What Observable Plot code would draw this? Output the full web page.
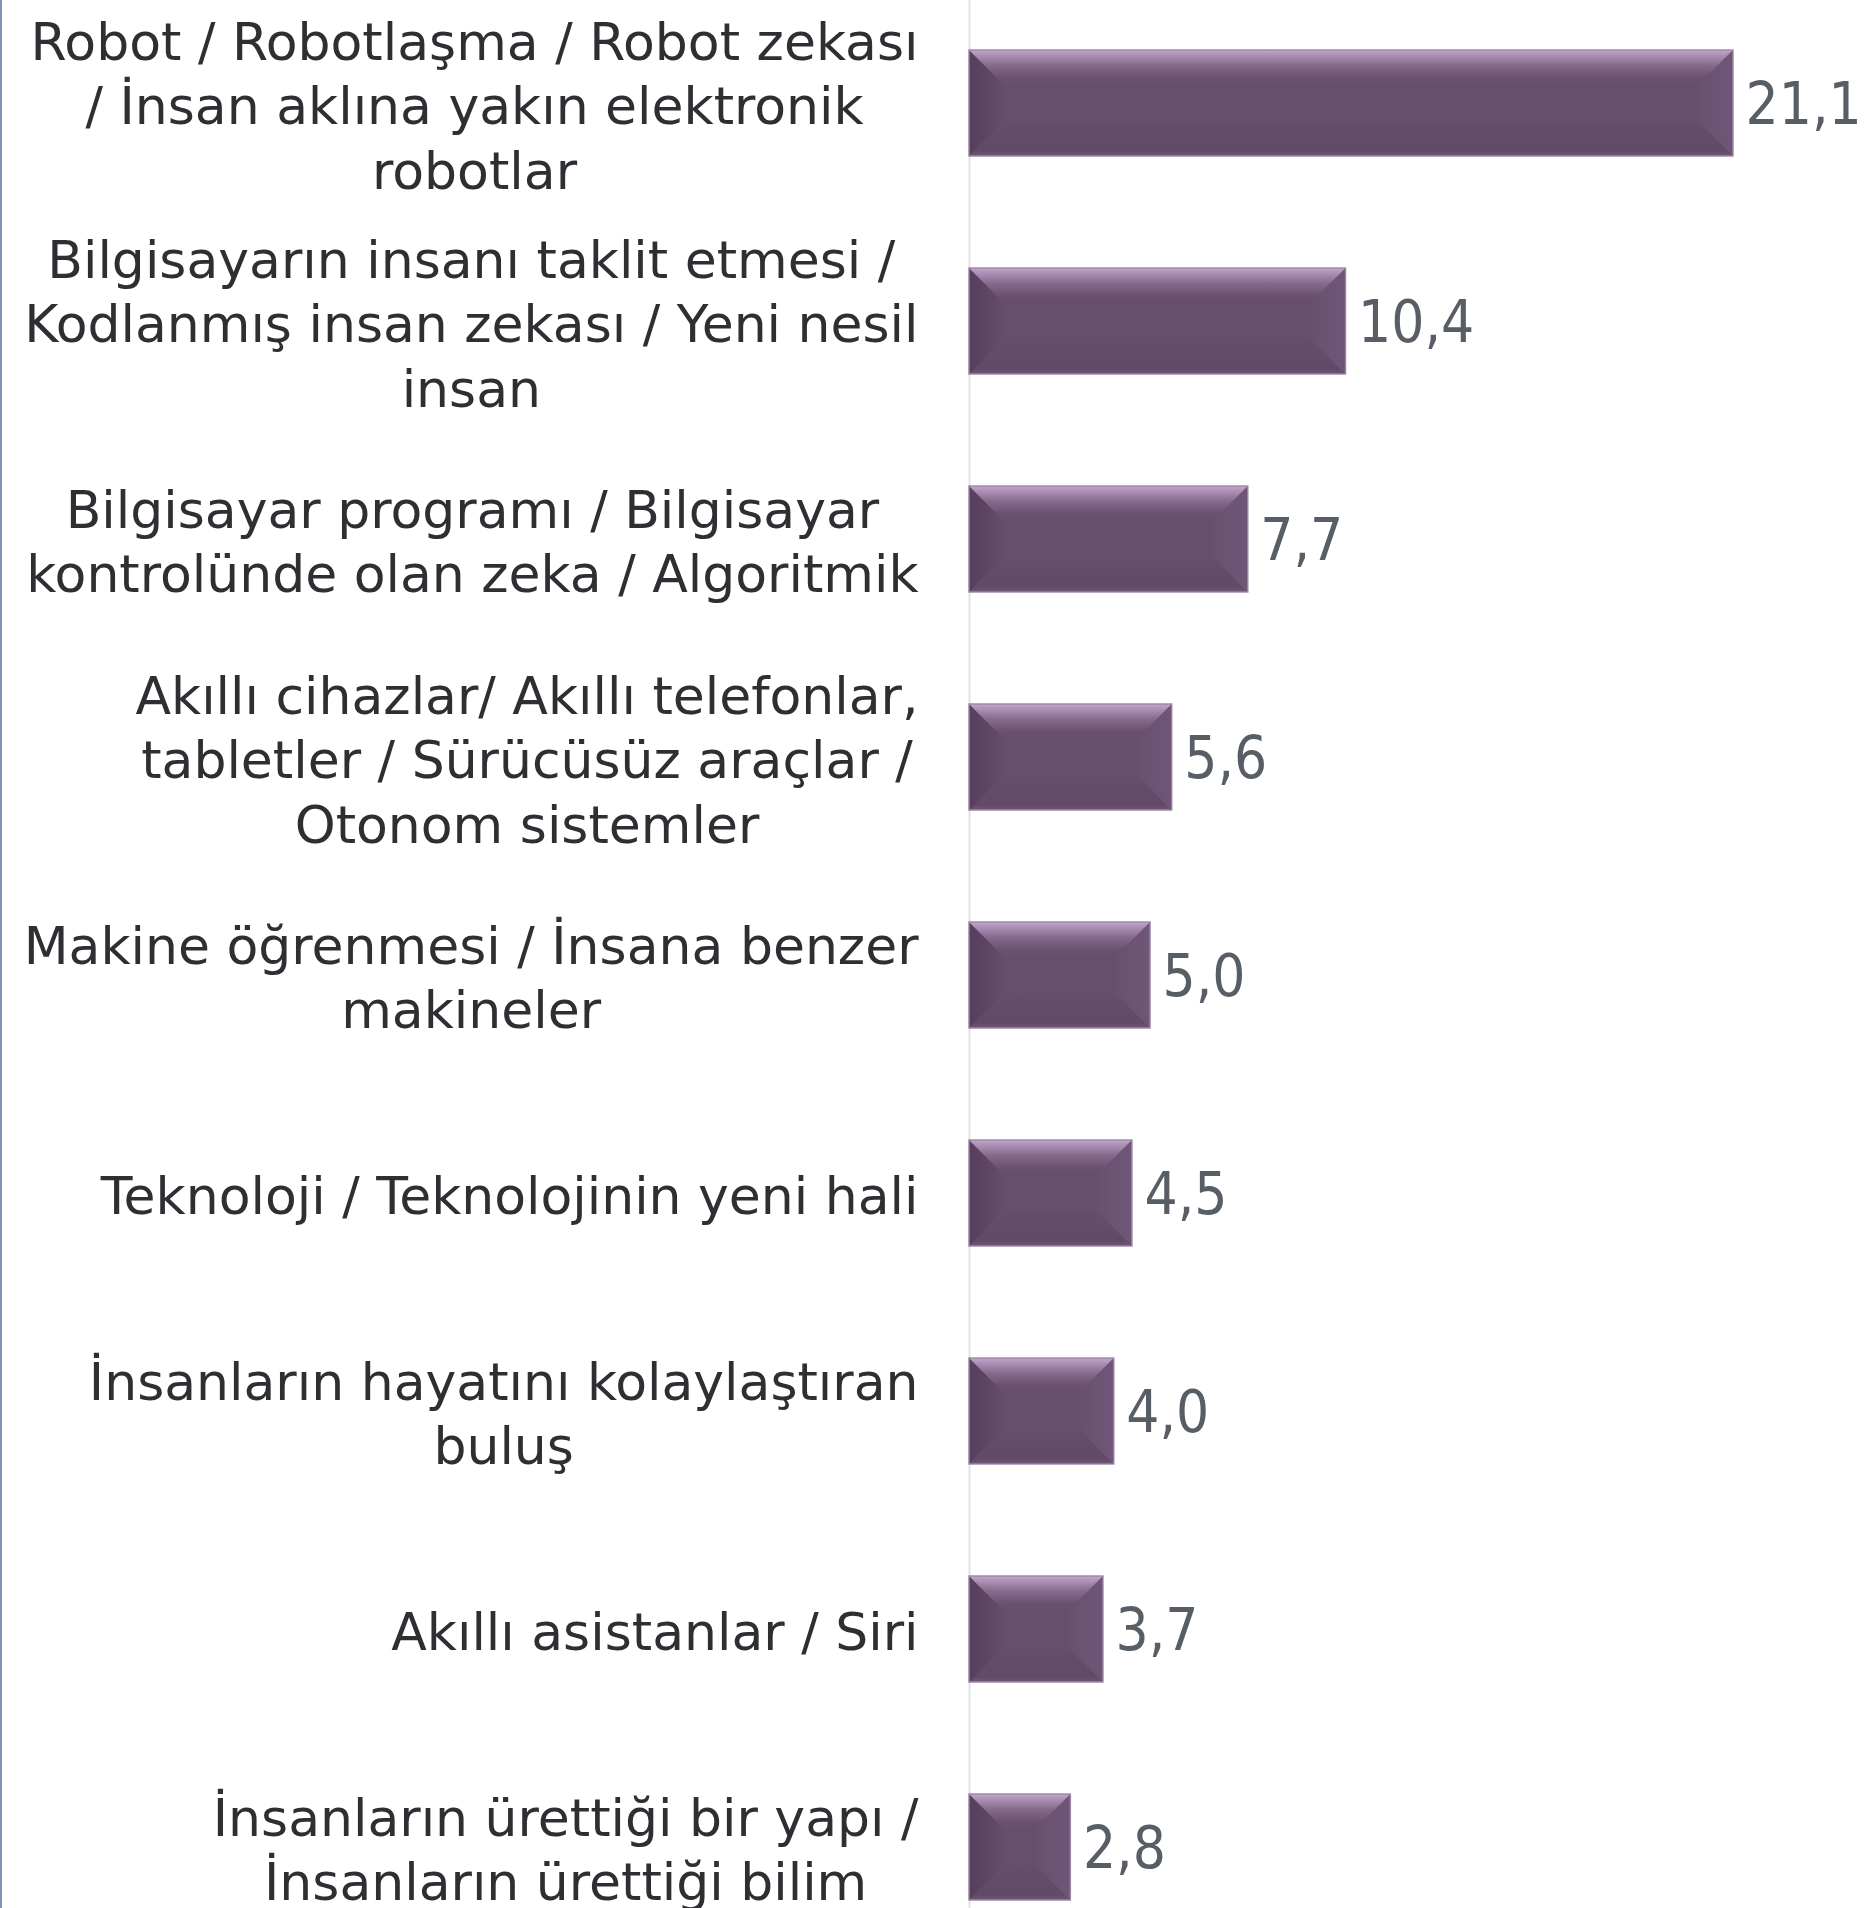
<!DOCTYPE html>
<html>
<head>
<meta charset="utf-8">
<script src="https://cdn.jsdelivr.net/npm/d3@7"></script>
<script src="https://cdn.jsdelivr.net/npm/@observablehq/plot@0.6"></script>
<style>
html, body { margin: 0; padding: 0; background: #ffffff; }
#wrap { position: relative; width: 1869px; height: 1908px; overflow: hidden; }
#edge { position: absolute; left: 0; top: 0; width: 2px; height: 1908px; background: #8391b2; z-index: 2; }
</style>
</head>
<body>
<div id="wrap"><div id="edge"></div></div>
<script>
// ---- data ----
const categories = [
  "Robot / Robotlaşma / Robot zekası\n/ İnsan aklına yakın elektronik\nrobotlar",
  "Bilgisayarın insanı taklit etmesi /\nKodlanmış insan zekası / Yeni nesil\ninsan",
  "Bilgisayar programı / Bilgisayar\nkontrolünde olan zeka / Algoritmik",
  "Akıllı cihazlar/ Akıllı telefonlar,\ntabletler / Sürücüsüz araçlar /\nOtonom sistemler",
  "Makine öğrenmesi / İnsana benzer\nmakineler",
  "Teknoloji / Teknolojinin yeni hali",
  "İnsanların hayatını kolaylaştıran\nbuluş",
  "Akıllı asistanlar / Siri",
  "İnsanların ürettiği bir yapı /\nİnsanların ürettiği bilim"
];
const values = [21.1, 10.4, 7.7, 5.6, 5.0, 4.5, 4.0, 3.7, 2.8];
const xMax = 24;

// ---- layout / style ----
const W = 1869, H = 1908;
const marginLeft = 969, marginRight = 31;
const labelFont = "DejaVu Sans";
const labelSize = 52;
const valueSize = 58;
const labelGap = 51;
const bevelPx = 34;
const baseFill = "#684e6d";

const rows = categories.map((cat, i) => ({cat, value: values[i], i}));
const fmt = v => v.toFixed(1).replace(".", ",");

// measure label lines to center each block with its widest line right-aligned
const ctx = document.createElement("canvas").getContext("2d");
ctx.font = `${labelSize}px "${labelFont}"`;
const blockWidth = categories.map(c => d3.max(c.split("\n"), l => ctx.measureText(l).width));

// bevel overlay drawn from the plot's own x / y scales
const bevelMark = (index, scales) => {
  const g = d3.create("svg:g");
  const defs = g.append("defs");
  const grad = (id, vertical, stops) => {
    const lg = defs.append("linearGradient").attr("id", id)
      .attr("x1", 0).attr("y1", 0).attr("x2", vertical ? 0 : 1).attr("y2", vertical ? 1 : 0);
    stops.forEach(([o, c]) => lg.append("stop").attr("offset", o).attr("stop-color", c));
  };
  grad("bvTop", true, [[0, "#c3a6cd"], [0.12, "#b294bb"], [0.45, "#86698c"], [0.8, "#6c5271"], [1, "#684e6d"]]);
  grad("bvLeft", false, [[0, "#563e5c"], [0.6, "#5f4665"], [1, "#674d6c"]]);
  grad("bvRight", false, [[0, "#6a5070"], [1, "#6f5577"]]);
  grad("bvBottom", true, [[0, "#674d6c"], [0.85, "#634968"], [1, "#6f5775"]]);
  const x = scales.x, y = scales.y;
  const bw = typeof y.bandwidth === "function" ? y.bandwidth() : y.bandwidth;
  for (const d of rows) {
    const x0 = x(0), x1 = x(d.value), y0 = y(d.cat), y1 = y0 + bw;
    const b = Math.min(bevelPx, (x1 - x0) / 2 - 2, bw / 2 - 2);
    const poly = (pts, fill) => g.append("polygon").attr("points", pts.map(p => p.join(",")).join(" ")).attr("fill", fill);
    poly([[x0, y1], [x1, y1], [x1 - b, y1 - b], [x0 + b, y1 - b]], "url(#bvBottom)");
    poly([[x0, y0], [x0 + b, y0 + b], [x0 + b, y1 - b], [x0, y1]], "url(#bvLeft)");
    poly([[x1, y0], [x1, y1], [x1 - b, y1 - b], [x1 - b, y0 + b]], "url(#bvRight)");
    poly([[x0, y0], [x1, y0], [x1 - b, y0 + b], [x0 + b, y0 + b]], "url(#bvTop)");
    g.append("rect").attr("x", x0).attr("y", y0).attr("width", x1 - x0).attr("height", bw)
      .attr("fill", "none").attr("stroke", "#9c86a4").attr("stroke-width", 1.4);
  }
  return g.node();
};

const labelMarks = rows.map((d, i) => Plot.text([d], {
  y: "cat",
  text: "cat",
  frameAnchor: "left",
  textAnchor: "middle",
  lineAnchor: "middle",
  lineHeight: 1.24,
  dx: -(labelGap + blockWidth[i] / 2),
  fontSize: labelSize,
  fontFamily: labelFont,
  fill: "#2d2f33"
}));

const chart = Plot.plot({
  width: W,
  height: H,
  marginLeft,
  marginRight,
  marginTop: 0,
  marginBottom: 0,
  style: {background: "#ffffff", overflow: "hidden"},
  x: {domain: [0, xMax], axis: null},
  y: {type: "band", domain: categories, range: [-63.9, 2013], padding: 0.516, axis: null},
  marks: [
    Plot.ruleX([0], {stroke: "#e2e2e8", strokeWidth: 2}),
    Plot.barX(rows, {x: "value", y: "cat", fill: baseFill}),
    bevelMark,
    Plot.text(rows, {
      x: "value", y: "cat", text: d => fmt(d.value),
      textAnchor: "start", dx: 12, dy: 2,
      fontSize: valueSize, fontFamily: "DejaVu Sans Condensed, DejaVu Sans",
      fill: "#585e65"
    }),
    ...labelMarks
  ]
});
document.getElementById("wrap").appendChild(chart);
</script>
</body>
</html>
